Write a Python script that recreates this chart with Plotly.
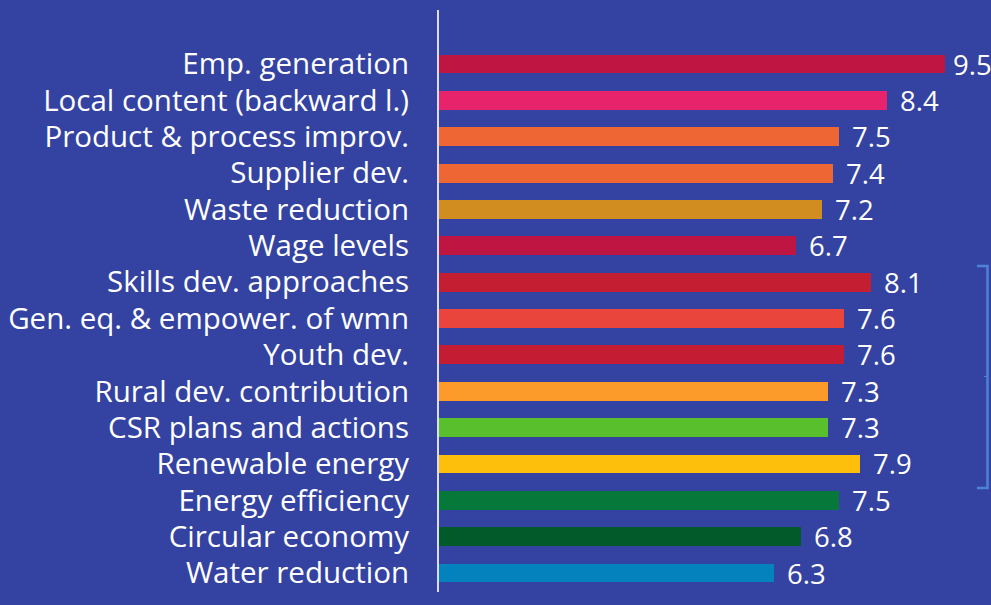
import plotly.graph_objects as go

# Indicator scores, listed top to bottom
categories = [
    "Emp. generation",
    "Local content (backward l.)",
    "Product & process improv.",
    "Supplier dev.",
    "Waste reduction",
    "Wage levels",
    "Skills dev. approaches",
    "Gen. eq. & empower. of wmn",
    "Youth dev.",
    "Rural dev. contribution",
    "CSR plans and actions",
    "Renewable energy",
    "Energy efficiency",
    "Circular economy",
    "Water reduction",
]
scores = [9.5, 8.4, 7.5, 7.4, 7.2, 6.7, 8.1, 7.6, 7.6, 7.3, 7.3, 7.9, 7.5, 6.8, 6.3]
bar_colors = [
    "#BE1543", "#E6236B", "#EE6633", "#EE6633", "#D18D20", "#BE1543",
    "#C41E32", "#EA453C", "#C41C32", "#FC9A2A", "#5ABF2C", "#FEBE0C",
    "#06793A", "#025A2B", "#0382BD",
]

W, H = 991, 605
BG = "#3443A1"
LEFT = 438                 # plot area left edge (px)
PX_PER_UNIT = 53.4
X_MAX = (W - LEFT) / PX_PER_UNIT

# row layout in pixels
ROW0, ROW_STEP = 64.0, 36.36
y_lo = -ROW0 / ROW_STEP
y_hi = (len(categories) - 1) + (H - (ROW0 + ROW_STEP * (len(categories) - 1))) / ROW_STEP

FONT = "Open Sans"
idx = list(range(len(categories)))

fig = go.Figure(
    go.Bar(
        x=scores,
        y=idx,
        orientation="h",
        marker=dict(color=bar_colors, line=dict(width=0)),
        width=0.52,
        hoverinfo="skip",
    )
)

# value labels after each bar; nudged in when close to the right edge
VAL_SIZE = 27.5
for i, v in enumerate(scores):
    end_px = LEFT + v * PX_PER_UNIT
    txt = f"{v:.1f}"
    text_w = 0.56 * VAL_SIZE * 2 + 0.27 * VAL_SIZE
    shift = min(11, (W - 2) - end_px - text_w)
    fig.add_annotation(
        x=v, y=i, xref="x", yref="y",
        text=txt, showarrow=False,
        xanchor="left", yanchor="middle",
        xshift=shift, yshift=0,
        font=dict(family=FONT, size=VAL_SIZE, color="white"),
    )

def px_x(p):
    return (p - LEFT) / (W - LEFT)

def px_y(p):
    return 1 - p / H

# vertical axis line
fig.add_shape(
    type="line", xref="paper", yref="paper",
    x0=px_x(438), x1=px_x(438), y0=px_y(10), y1=px_y(592),
    line=dict(color="#DCDDEF", width=2),
)

# bracket grouping the social indicators block
bx0, bx1 = px_x(977), px_x(987.5)
by0, by1, bym = px_y(266), px_y(488), px_y(376.5)
fig.add_shape(
    type="path", xref="paper", yref="paper",
    path=f"M {bx0} {by0} L {bx1} {by0} L {bx1} {by1} L {bx0} {by1}",
    line=dict(color="#4C82D8", width=2.5),
)
fig.add_shape(
    type="line", xref="paper", yref="paper",
    x0=px_x(984), x1=bx1, y0=bym, y1=bym,
    line=dict(color="#4C82D8", width=1),
)

fig.update_layout(
    width=W, height=H,
    margin=dict(l=LEFT, r=0, t=0, b=0, pad=0),
    paper_bgcolor=BG, plot_bgcolor=BG,
    showlegend=False,
    bargap=0,
    xaxis=dict(range=[0, X_MAX], visible=False, fixedrange=True),
    yaxis=dict(
        range=[y_hi, y_lo],
        tickmode="array", tickvals=idx, ticktext=categories,
        showgrid=False, zeroline=False, showline=False,
        ticks="", ticklabelstandoff=28,
        tickfont=dict(family=FONT, size=29.5, color="white"),
        automargin=False, fixedrange=True,
    ),
)

fig.write_html("out.html")
